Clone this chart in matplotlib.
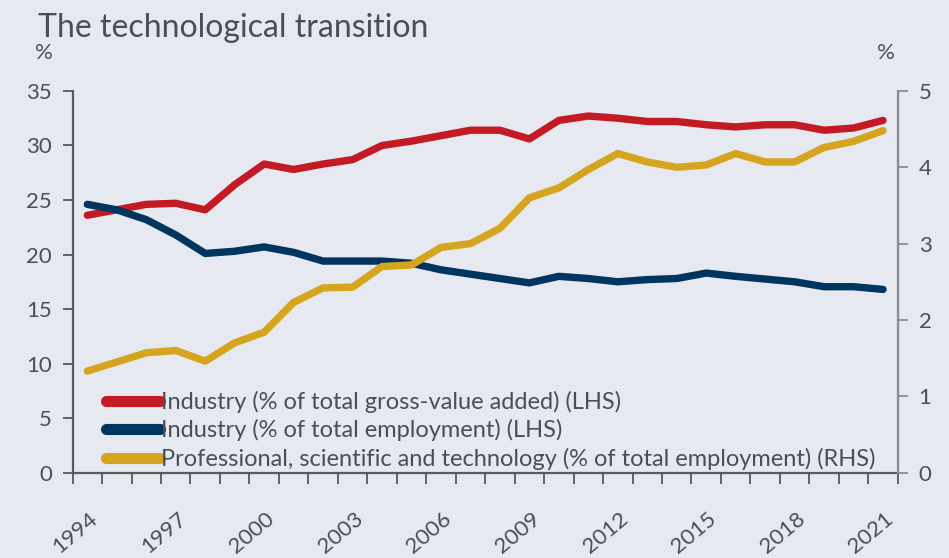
import numpy as np
import matplotlib.pyplot as plt

years = list(range(1994, 2022))

# Industry (% of total gross-value added), left axis
industry_gva = [23.6, 24.1, 24.6, 24.7, 24.1, 26.4, 28.3, 27.8, 28.3, 28.7,
                30.0, 30.4, 30.9, 31.4, 31.4, 30.6, 32.3, 32.7, 32.5, 32.2,
                32.2, 31.9, 31.7, 31.9, 31.9, 31.4, 31.6, 32.3]
# Industry (% of total employment), left axis
industry_emp = [24.6, 24.1, 23.2, 21.8, 20.1, 20.3, 20.7, 20.2, 19.4, 19.4,
                19.4, 19.2, 18.6, 18.2, 17.8, 17.4, 18.0, 17.8, 17.5, 17.7,
                17.8, 18.3, 18.0, 17.75, 17.5, 17.05, 17.05, 16.8]
# Professional, scientific and technology (% of total employment), right axis
prof_emp = [1.33, 1.45, 1.57, 1.60, 1.46, 1.70, 1.84, 2.23, 2.42, 2.43,
            2.70, 2.72, 2.95, 3.00, 3.20, 3.60, 3.73, 3.97, 4.18, 4.07,
            4.00, 4.03, 4.18, 4.07, 4.07, 4.26, 4.34, 4.48]

labels = ['Industry (% of total gross-value added) (LHS)',
          'Industry (% of total employment) (LHS)',
          'Professional, scientific and technology (% of total employment) (RHS)']

BG = '#e6e9ef'
RED = '#c41a26'
NAVY = '#00355f'
GOLD = '#d6a51f'
TXT = '#4a4f57'

plt.rcParams['font.family'] = ['Lato', 'DejaVu Sans']

fig = plt.figure(figsize=(9.49, 5.58), dpi=100, facecolor=BG)
ax = fig.add_axes([0.0765, 0.153, 0.8695, 0.684], facecolor=BG)
ax2 = ax.twinx()

x = np.arange(len(years))
l1, = ax.plot(x, industry_gva, color=RED, lw=5.3, solid_capstyle='round', solid_joinstyle='round')
l2, = ax.plot(x, industry_emp, color=NAVY, lw=5.3, solid_capstyle='round', solid_joinstyle='round')
l3, = ax2.plot(x, prof_emp, color=GOLD, lw=5.3, solid_capstyle='round', solid_joinstyle='round')

ax.set_xlim(-0.5, len(years) - 0.5)
ax.set_ylim(0, 35)
ax2.set_ylim(0, 5)
ax.set_yticks(range(0, 36, 5))
ax2.set_yticks(range(0, 6))

# tick marks on the category boundaries
ax.set_xticks(np.arange(-0.5, len(years), 1))
ax.set_xticklabels([])
ax.tick_params(axis='x', which='major', length=8, width=1.3, color='#555a60', direction='out')

# year labels every 3 years, rotated, under the middle of the year
for i in x[::3]:
    ax.annotate(str(years[i]), xy=(i, 0), xycoords=ax.get_xaxis_transform(),
                xytext=(1, -26), textcoords='offset points', rotation=40,
                ha='right', va='top', rotation_mode='anchor', fontsize=16, color=TXT)

ax.tick_params(axis='y', length=7, width=1.3, color='#555a60', labelsize=16, labelcolor=TXT, pad=8)
ax2.tick_params(axis='y', length=7, width=1.3, color='#8a8d92', labelsize=16, labelcolor=TXT, pad=8)

for a in (ax, ax2):
    a.spines['top'].set_visible(False)
ax.spines['left'].set_color('#555a60')
ax.spines['left'].set_linewidth(1.6)
ax.spines['bottom'].set_color('#555a60')
ax.spines['bottom'].set_linewidth(1.6)
ax2.spines['right'].set_color('#8a8d92')
ax2.spines['right'].set_linewidth(1.6)
ax2.spines['left'].set_visible(False)
ax2.spines['bottom'].set_visible(False)

fig.text(0.040, 0.950, 'The technological transition', fontsize=23, color=TXT, va='center')
fig.text(0.046, 0.905, '%', fontsize=16, color=TXT, va='center', ha='center')
fig.text(0.934, 0.905, '%', fontsize=16, color=TXT, va='center', ha='center')

leg = ax.legend([l1, l2, l3], labels, loc='lower left', bbox_to_anchor=(0.02, -0.036),
                frameon=False, fontsize=17, handlelength=2.3, handletextpad=0.05,
                labelspacing=0.27, borderaxespad=0.3)
for t in leg.get_texts():
    t.set_color(TXT)
for h in leg.legend_handles:
    h.set_linewidth(8)
    h.set_solid_capstyle('round')

plt.savefig('out.png', dpi=100, facecolor=BG)
